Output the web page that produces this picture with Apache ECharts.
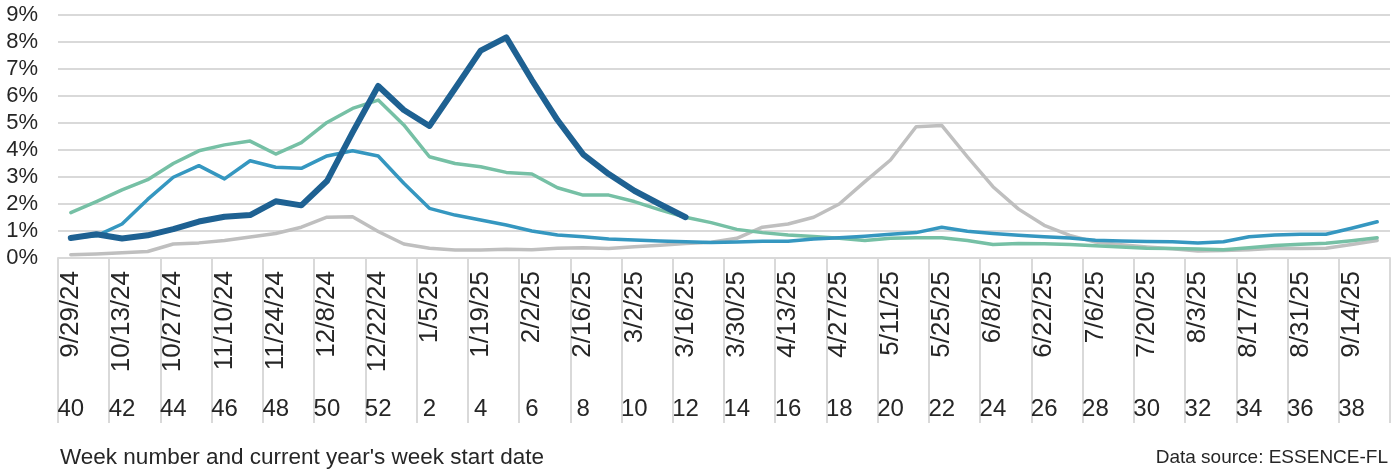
<!DOCTYPE html>
<html>
<head>
<meta charset="utf-8">
<script src="https://cdn.jsdelivr.net/npm/echarts@6/dist/echarts.min.js"></script>
<style>
html,body{margin:0;padding:0;background:#fff;}
#chart{width:1399px;height:474px;}
</style>
</head>
<body>
<div id="chart"></div>
<script>
const dates = ["9/29/24","10/6/24","10/13/24","10/20/24","10/27/24","11/3/24","11/10/24","11/17/24","11/24/24","12/1/24","12/8/24","12/15/24","12/22/24","12/29/24","1/5/25","1/12/25","1/19/25","1/26/25","2/2/25","2/9/25","2/16/25","2/23/25","3/2/25","3/9/25","3/16/25","3/23/25","3/30/25","4/6/25","4/13/25","4/20/25","4/27/25","5/4/25","5/11/25","5/18/25","5/25/25","6/1/25","6/8/25","6/15/25","6/22/25","6/29/25","7/6/25","7/13/25","7/20/25","7/27/25","8/3/25","8/10/25","8/17/25","8/24/25","8/31/25","9/7/25","9/14/25","9/21/25"];
const weeks = ["40","41","42","43","44","45","46","47","48","49","50","51","52","1","2","3","4","5","6","7","8","9","10","11","12","13","14","15","16","17","18","19","20","21","22","23","24","25","26","27","28","29","30","31","32","33","34","35","36","37","38","39"];
const yTicks = [0,1,2,3,4,5,6,7,8,9];

const seriesCurrent = [0.74,0.88,0.72,0.84,1.07,1.35,1.53,1.59,2.10,1.95,2.85,4.65,6.37,5.48,4.89,6.28,7.68,8.17,6.59,5.11,3.84,3.11,2.49,1.99,1.51];
const seriesBlue = [0.76,0.82,1.26,2.17,2.99,3.42,2.93,3.60,3.36,3.32,3.78,3.97,3.78,2.77,1.84,1.59,1.41,1.22,1.00,0.85,0.79,0.70,0.67,0.63,0.60,0.57,0.59,0.62,0.62,0.70,0.75,0.81,0.88,0.94,1.14,0.99,0.91,0.84,0.79,0.74,0.66,0.63,0.61,0.60,0.56,0.60,0.79,0.85,0.88,0.88,1.10,1.34];
const seriesGreen = [1.68,2.09,2.52,2.90,3.50,3.97,4.19,4.33,3.85,4.27,5.02,5.54,5.85,4.93,3.75,3.50,3.38,3.17,3.11,2.60,2.33,2.33,2.09,1.78,1.51,1.31,1.06,0.94,0.85,0.80,0.73,0.65,0.73,0.75,0.75,0.65,0.50,0.54,0.53,0.50,0.45,0.41,0.36,0.35,0.33,0.31,0.38,0.46,0.51,0.55,0.64,0.75];
const seriesGray = [0.12,0.15,0.19,0.24,0.52,0.56,0.65,0.78,0.91,1.14,1.51,1.53,0.98,0.52,0.36,0.30,0.30,0.32,0.31,0.36,0.38,0.35,0.42,0.47,0.54,0.58,0.73,1.14,1.26,1.51,2.00,2.83,3.63,4.86,4.91,3.75,2.64,1.81,1.21,0.84,0.59,0.49,0.41,0.34,0.26,0.28,0.31,0.36,0.35,0.36,0.50,0.65];

const FONT = "Liberation Sans";
const TXT = "#262626";
const GRID = "#D9D9D9";

const chart = echarts.init(document.getElementById('chart'), null, {renderer:'canvas'});
function line(name, data, color, width, z){
  return {name, type:'line', data, xAxisIndex:0, yAxisIndex:0, symbol:'none', z,
    lineStyle:{color, width, join:'round', cap:'round'}, itemStyle:{color}, animation:false};
}
chart.setOption({
  animation:false,
  textStyle:{fontFamily:FONT},
  grid:{left:58, right:9, top:15, bottom:216, containLabel:false},
  xAxis:[{
    type:'category', data:dates, position:'bottom', boundaryGap:true,
    axisLine:{show:true, lineStyle:{color:GRID, width:2}},
    axisTick:{show:true, interval:1, length:165, lineStyle:{color:GRID, width:2}},
    axisLabel:{interval:1, rotate:90, margin:13, fontSize:26, color:TXT, fontFamily:FONT}
  },{
    type:'category', data:weeks, position:'bottom', boundaryGap:true,
    axisLine:{show:false}, axisTick:{show:false},
    axisLabel:{interval:1, margin:139, fontSize:24, color:TXT, fontFamily:FONT}
  }],
  yAxis:{
    type:'value', min:yTicks[0], max:yTicks[yTicks.length-1], interval:1,
    axisLine:{show:false}, axisTick:{show:false},
    splitLine:{show:true, lineStyle:{color:GRID, width:2}},
    axisLabel:{formatter:'{value}%', fontSize:22, color:TXT, margin:20, fontFamily:FONT}
  },
  series:[
    line('Gray', seriesGray, '#BFBFBF', 3.5, 2),
    line('Green', seriesGreen, '#76C0A5', 3.5, 3),
    line('Blue', seriesBlue, '#3597C0', 3.5, 4),
    line('Current', seriesCurrent, '#1E6192', 6, 5)
  ],
  graphic:[
    {type:'text', left:60, top:446, style:{text:"Week number and current year's week start date", fontSize:22.5, fill:TXT, fontFamily:FONT}},
    {type:'text', right:11, top:448, style:{text:"Data source: ESSENCE-FL", fontSize:19, fill:TXT, fontFamily:FONT}}
  ]
});
</script>
</body>
</html>
